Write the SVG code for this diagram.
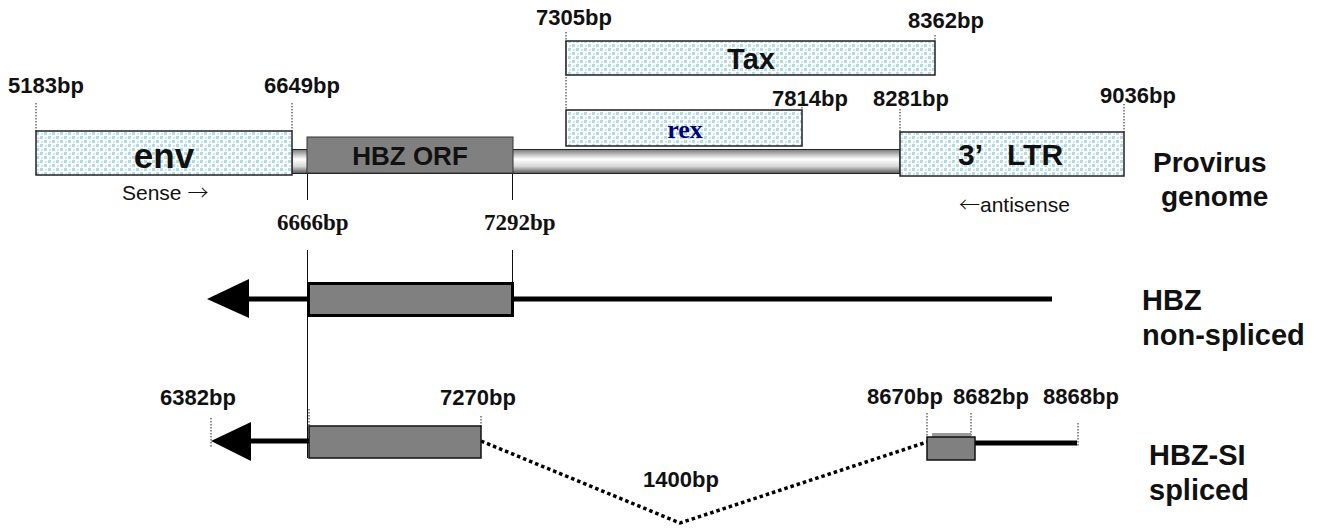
<svg xmlns="http://www.w3.org/2000/svg" width="1320" height="529" viewBox="0 0 1320 529">
<style>
.lbl{font-family:"Liberation Sans",Arial,sans-serif;font-weight:bold;font-size:22px;fill:#111}
.ser{font-family:"Liberation Serif","Times New Roman",serif;font-weight:bold;font-size:23px;fill:#111}
.big{font-family:"Liberation Sans",Arial,sans-serif;font-weight:bold;fill:#111}
.reg{font-family:"Liberation Sans",Arial,sans-serif;font-size:21px;fill:#111}
.arr{font-family:"Noto Sans CJK JP",sans-serif;font-weight:300}
.dot{stroke:#222;stroke-width:1;stroke-dasharray:1.5 1.5;fill:none}
.gene{fill:url(#dots);stroke:#222;stroke-width:1.5}
.exon{fill:#808080;stroke:#111;stroke-width:1.5}
.thin{stroke:#111;stroke-width:1;fill:none}
.thick{stroke:#000;stroke-width:5;fill:none}
</style>
<defs>
<pattern id="dots" width="8" height="8" patternUnits="userSpaceOnUse">
<rect width="8" height="8" fill="#ffffff"/>
<rect x="0" y="0" width="3" height="3" fill="#b0dce4"/>
<rect x="4" y="4" width="3" height="3" fill="#b0dce4"/>
<rect x="5" y="1" width="2" height="2" fill="#cfeaef"/>
<rect x="1" y="5" width="2" height="2" fill="#cfeaef"/>
</pattern>
<linearGradient id="bar" x1="0" y1="0" x2="0" y2="1">
<stop offset="0" stop-color="#7a7a7a"/>
<stop offset="0.4" stop-color="#ffffff"/>
<stop offset="0.7" stop-color="#d8d8d8"/>
<stop offset="1" stop-color="#555555"/>
</linearGradient>
</defs>

<g id="connectors">
<line class="dot" x1="36" y1="103" x2="36" y2="131"/>
<line class="dot" x1="292" y1="103" x2="292" y2="131"/>
<line class="dot" x1="566" y1="32" x2="566" y2="110"/>
<line class="dot" x1="935" y1="35" x2="935" y2="41"/>
<line class="dot" x1="802" y1="104" x2="802" y2="110"/>
<line class="dot" x1="900" y1="109" x2="900" y2="132"/>
<line class="dot" x1="1124" y1="104" x2="1124" y2="132"/>
<line class="dot" x1="211" y1="418" x2="211" y2="448"/>
<line class="dot" x1="309" y1="409" x2="309" y2="426"/>
<line class="dot" x1="481" y1="416" x2="481" y2="426"/>
<line class="dot" x1="927" y1="413" x2="927" y2="437"/>
<line class="dot" x1="971" y1="413" x2="971" y2="437"/>
<line class="dot" x1="1078" y1="423" x2="1078" y2="446"/>
<line class="thin" x1="307.5" y1="173" x2="307.5" y2="200"/>
<line class="thin" x1="512.5" y1="173" x2="512.5" y2="200"/>
<line class="thin" x1="307.5" y1="250" x2="307.5" y2="458"/>
<line class="thin" x1="512.5" y1="250" x2="512.5" y2="282"/>
<polyline points="481,441 680,523 927,442" fill="none" stroke="#000" stroke-width="3.5" stroke-dasharray="3.5 3"/>
</g>

<g id="provirus-bar">
<rect x="292" y="149.5" width="608" height="24" fill="url(#bar)" stroke="#222" stroke-width="1"/>
</g>

<g id="env">
<rect class="gene" x="36" y="131" width="256" height="44"/>
<text class="big" x="164" y="168" font-size="35" text-anchor="middle">env</text>
<text class="reg" x="122" y="200">Sense <tspan class="arr">→</tspan></text>
</g>

<g id="hbz-orf">
<rect x="307" y="137" width="206" height="36" fill="#808080" stroke="#333" stroke-width="1"/>
<text class="big" x="410" y="165" font-size="26" text-anchor="middle">HBZ ORF</text>
</g>

<g id="tax">
<rect class="gene" x="566" y="41" width="369" height="34"/>
<text class="big" x="751" y="69" font-size="29" text-anchor="middle">Tax</text>
</g>

<g id="rex">
<rect class="gene" x="566" y="110" width="236" height="36"/>
<text x="685" y="138" font-family="'Liberation Serif','Times New Roman',serif" font-weight="bold" font-size="26" fill="#000080" text-anchor="middle">rex</text>
</g>

<g id="ltr">
<rect class="gene" x="900" y="132" width="224" height="44"/>
<text class="big" y="165" font-size="30"><tspan x="958">3’</tspan><tspan x="1007">LTR</tspan></text>
<text class="reg" x="959" y="212"><tspan class="arr">←</tspan>antisense</text>
</g>

<g id="labels-bp">
<text class="lbl" x="8" y="93">5183bp</text>
<text class="lbl" x="264" y="93">6649bp</text>
<text class="lbl" x="536" y="25">7305bp</text>
<text class="lbl" x="908" y="28">8362bp</text>
<text class="lbl" x="772" y="106">7814bp</text>
<text class="lbl" x="873" y="106">8281bp</text>
<text class="lbl" x="1100" y="103">9036bp</text>
<text class="ser" x="277" y="230">6666bp</text>
<text class="ser" x="484" y="230">7292bp</text>
<text class="lbl" x="160" y="405">6382bp</text>
<text class="lbl" x="440" y="405">7270bp</text>
<text class="lbl" x="867" y="404">8670bp</text>
<text class="lbl" x="953" y="404">8682bp</text>
<text class="lbl" x="1043" y="404">8868bp</text>
<text class="lbl" x="643" y="487">1400bp</text>
</g>

<g id="provirus-label">
<text class="big" x="1153" y="172" font-size="28">Provirus</text>
<text class="big" x="1161" y="206" font-size="28">genome</text>
</g>

<g id="hbz-nonspliced">
<line class="thick" x1="245" y1="299" x2="1052" y2="299"/>
<polygon points="207,299 249,279 249,318" fill="#000"/>
<rect x="308.5" y="283.5" width="204" height="32" fill="#808080" stroke="#000" stroke-width="3"/>
<text class="big" x="1142" y="310" font-size="29">HBZ</text>
<text class="big" x="1142" y="345" font-size="29">non-spliced</text>
</g>

<g id="hbz-spliced">
<line class="thick" x1="248" y1="441" x2="309" y2="441"/>
<polygon points="211,441 251,422 251,461" fill="#000"/>
<rect class="exon" x="309" y="426" width="172" height="32"/>
<line class="thick" x1="975" y1="443" x2="1077" y2="443"/>
<rect x="932" y="433" width="39" height="4" fill="#9a9a9a"/>
<rect class="exon" x="927" y="437" width="48" height="23"/>
<text class="big" x="1149" y="465" font-size="29">HBZ-SI</text>
<text class="big" x="1149" y="500" font-size="29">spliced</text>
</g>
</svg>
